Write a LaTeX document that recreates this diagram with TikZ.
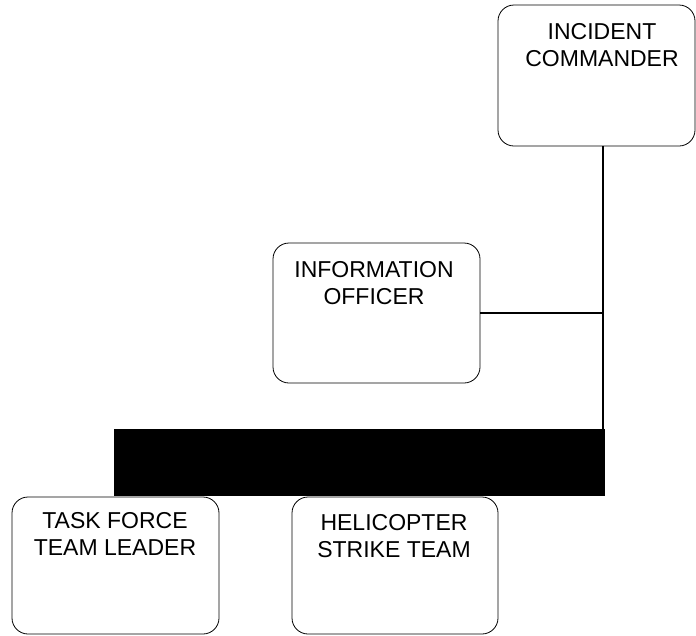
\documentclass[tikz,border=0pt]{standalone}
\usepackage{fontspec}
\setmainfont{Liberation Sans}
\begin{document}
\begin{tikzpicture}[x=1pt,y=-1pt,
  orgbox/.style={draw=black, line width=0.8pt, rounded corners=16pt, fill=white, inner sep=0pt},
  lbl/.style={anchor=north, inner sep=0pt, align=center, font=\fontsize{23}{27.6}\selectfont},
  conn/.style={draw=black, line width=1.6pt}]
\useasboundingbox (0,0) rectangle (696,635);
% boxes
\node[orgbox, minimum width=197pt, minimum height=141pt] (ic) at (596.5,75.5) {};
\node[orgbox, minimum width=207pt, minimum height=140pt] (io) at (376.5,313) {};
\node[orgbox, minimum width=207pt, minimum height=137pt] (tf) at (115.5,565.5) {};
\node[orgbox, minimum width=206pt, minimum height=137pt] (hs) at (395,565.5) {};
% bar
\node[fill=black, draw=none, inner sep=0pt, minimum width=491pt, minimum height=67pt] (bar) at (359.5,462.5) {};
% labels
\node[lbl] (ict) at (602,23) {INCIDENT\\COMMANDER};
\node[lbl] (iot) at (374,261) {INFORMATION\\OFFICER};
\node[lbl] (tft) at (115,512) {TASK FORCE\\TEAM LEADER};
\node[lbl] (hst) at (394,514) {HELICOPTER\\STRIKE TEAM};
% connectors
\coordinate (j) at (603,313);
\draw[conn] (ic.south -| j) -- (bar.north -| j);
\draw[conn] (io.east) -- (j);
\end{tikzpicture}
\end{document}
